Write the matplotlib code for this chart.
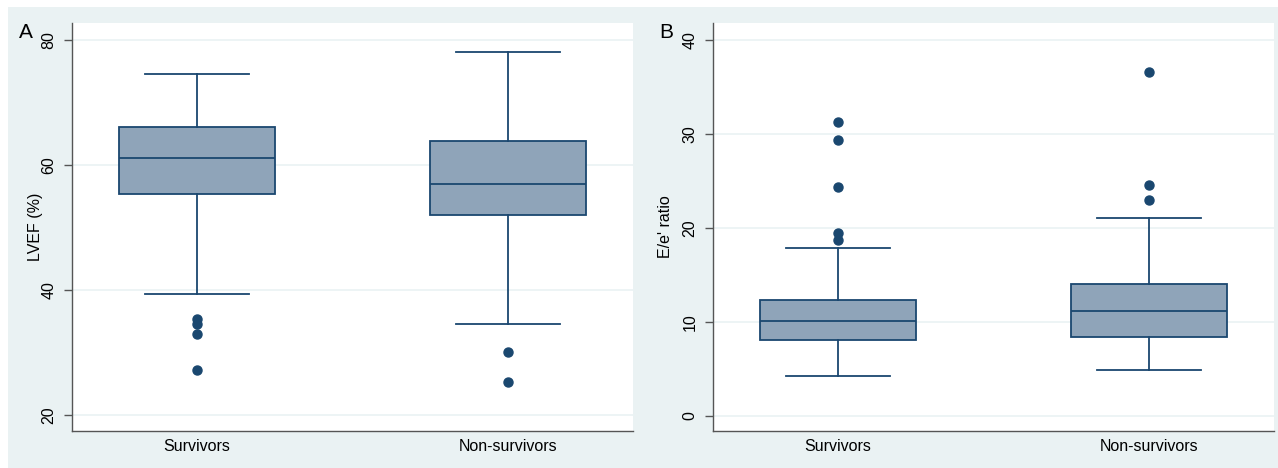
import matplotlib
matplotlib.use("Agg")
import matplotlib.pyplot as plt
from matplotlib.patches import Rectangle

plt.rcParams['font.family'] = ['Liberation Sans', 'DejaVu Sans']

categories = ["Survivors", "Non-survivors"]

# Panel A: LVEF (%)
lvef_whislo = [39.4, 34.6]
lvef_q1 = [55.4, 52.0]
lvef_med = [61.1, 57.0]
lvef_q3 = [66.1, 63.8]
lvef_whishi = [74.6, 78.1]
lvef_fliers = [[35.3, 34.6, 33.0, 27.2], [30.1, 25.3]]
lvef_ticks = [20, 40, 60, 80]

# Panel B: E/e' ratio
ee_whislo = [4.2, 4.9]
ee_q1 = [8.05, 8.4]
ee_med = [10.1, 11.1]
ee_q3 = [12.3, 14.0]
ee_whishi = [17.85, 21.0]
ee_fliers = [[31.3, 29.3, 24.3, 19.45, 18.75], [36.6, 24.6, 23.0]]
ee_ticks = [0, 10, 20, 30, 40]

BG = '#EAF2F3'
NAVY = '#1A476F'
FILL = '#8FA4B9'

W, H = 1278, 468
fig = plt.figure(figsize=(W / 100, H / 100), dpi=100, facecolor='white')
fig.patches.append(Rectangle((8 / W, 0), 1 - 8 / W, 1 - 7 / H, transform=fig.transFigure,
                             facecolor=BG, edgecolor='none', zorder=-10))


def make_axes(left_px, right_px):
    top_px, bot_px = 23, 431
    return fig.add_axes([left_px / W, 1 - bot_px / H, (right_px - left_px) / W, (bot_px - top_px) / H])


def draw(ax, whislo, q1, med, q3, whishi, fliers, ticks, ylim, ylabel, letter, label_x):
    stats = []
    for i, c in enumerate(categories):
        stats.append(dict(label=c, whislo=whislo[i], q1=q1[i], med=med[i], q3=q3[i],
                          whishi=whishi[i], fliers=fliers[i]))
    lw = 1.3
    ax.bxp(stats, positions=[1, 2], widths=0.5, patch_artist=True, showfliers=True,
           boxprops=dict(facecolor=FILL, edgecolor=NAVY, linewidth=lw),
           medianprops=dict(color=NAVY, linewidth=lw),
           whiskerprops=dict(color=NAVY, linewidth=lw),
           capprops=dict(color=NAVY, linewidth=lw),
           capwidths=0.335,
           flierprops=dict(marker='o', markerfacecolor=NAVY, markeredgecolor=NAVY,
                           markersize=6.5, linestyle='none'))
    ax.set_xlim(0.598, 2.402)
    ax.set_ylim(*ylim)
    ax.set_yticks(ticks)
    ax.set_yticklabels([str(t) for t in ticks], rotation=90, va='center', fontsize=11.5)
    ax.set_xticks([1, 2])
    ax.set_xticklabels(categories, fontsize=11.5)
    ax.tick_params(axis='x', length=0, pad=6)
    ax.tick_params(axis='y', length=6, width=1, color='#555555', pad=5)
    ax.yaxis.grid(True, color=BG, linewidth=1.2)
    ax.set_axisbelow(True)
    for s in ['top', 'right']:
        ax.spines[s].set_visible(False)
    for s in ['left', 'bottom']:
        ax.spines[s].set_color('#555555')
        ax.spines[s].set_linewidth(1.0)
    ax.set_ylabel(ylabel, fontsize=11.5)
    ax.yaxis.set_label_coords(label_x, 0.5)
    ax.set_facecolor('white')
    ax.text(-0.095, 1.0, letter, transform=ax.transAxes, fontsize=15, ha='left', va='top')


axA = make_axes(72, 633)
draw(axA, lvef_whislo, lvef_q1, lvef_med, lvef_q3, lvef_whishi, lvef_fliers, lvef_ticks,
     (17.44, 82.72), "LVEF (%)", "A", -0.052)

axB = make_axes(713, 1274)
draw(axB, ee_whislo, ee_q1, ee_med, ee_q3, ee_whishi, ee_fliers, ee_ticks,
     (-1.63, 41.81), "E/e' ratio", "B", -0.071)

fig.savefig("out.png", dpi=100, facecolor=fig.get_facecolor())
